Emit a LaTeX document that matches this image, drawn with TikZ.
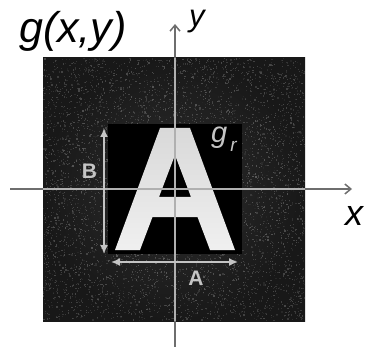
\documentclass[tikz,border=0pt]{standalone}
\usepackage{fontspec}
\setmainfont{Liberation Sans}
\usetikzlibrary{arrows.meta}
\definecolor{axout}{HTML}{6E6E6E}
\definecolor{axin}{HTML}{B0B0B0}
\definecolor{labgray}{HTML}{C4C4C4}
\definecolor{bgedge}{HTML}{181818}
\definecolor{bgmid}{HTML}{2E2E2E}
\tikzset{
  axis/.style={line width=1.5pt, -{Straight Barb[length=6pt,width=10pt,line width=1.5pt]}},
  dimarrow/.style={draw=labgray, line width=1.6pt, {Latex[length=9pt,width=8pt]}-{Latex[length=9pt,width=8pt]}},
  dimlabel/.style={text=labgray, font=\fontsize{21}{21}\selectfont\bfseries, inner sep=0pt},
  biglabel/.style={font=\itshape, inner sep=0pt, anchor=base west}
}
\begin{document}
\begin{tikzpicture}[x=1pt,y=-1pt]
\useasboundingbox (0,0) rectangle (366,347);
\clip (0,0) rectangle (366,347);
% outer noisy square
\shade[inner color=bgmid, outer color=bgedge] (43,58) rectangle (305,321);
\pgfmathsetseed{11}
\foreach \i in {1,...,6000}{
  \pgfmathsetmacro{\px}{43+260.8*rnd}
  \pgfmathsetmacro{\py}{58+261.8*rnd}
  \pgfmathsetmacro{\dd}{min(1,veclen(\px-174,\py-189)/150)}
  \pgfmathsetmacro{\pc}{86-rnd*(14+16*(1-\dd))}
  \fill[black!\pc] (\px,\py) rectangle ++(1.2,1.2);
}
% inner black box
\fill[black] (108,124) rectangle (242,254);
% letter A
\shade[top color=black!15, bottom color=black!6, even odd rule]
  (115,250) -- (160,128) -- (190,128) -- (235,250) -- (210,250) -- (197.5,217)
  -- (152.5,217) -- (140,250) -- cycle
  (175,155) -- (159,197) -- (191,197) -- cycle;
% axes
\coordinate (xs) at (10,189);
\coordinate (xe) at (352,189);
\coordinate (ys) at (175,347);
\coordinate (ye) at (175,24);
\draw[axis, draw=axout] (xs) -- (xe);
\draw[axis, draw=axout] (ys) -- (ye);
\draw[axin, line width=1.5pt] (43,189) -- (305,189);
\draw[axin, line width=1.5pt] (175,58) -- (175,321);
% dimension arrows
\coordinate (bt) at (104,128);
\coordinate (bb) at (104,254);
\coordinate (al) at (111,262);
\coordinate (ar) at (238,262);
\draw[dimarrow] (bt) -- (bb);
\draw[dimarrow] (al) -- (ar);
\node[dimlabel] (Blab) at (89.5,171) {B};
\node[dimlabel] (Alab) at (196,278.5) {A};
% labels
\node[biglabel, font=\fontsize{43}{43}\selectfont\itshape] (gxy) at (19,43) {g(x,y)};
\node[biglabel, font=\fontsize{31}{31}\selectfont\itshape] (ylab) at (189,27) {y};
\node[biglabel, font=\fontsize{36}{36}\selectfont\itshape] (xlab) at (345,225) {x};
\node[biglabel, text=labgray, font=\fontsize{29}{29}\selectfont\itshape] (gr) at (211,143) {g\hspace{3pt}\raisebox{-9pt}{\fontsize{19}{19}\selectfont r}};
\end{tikzpicture}
\end{document}
